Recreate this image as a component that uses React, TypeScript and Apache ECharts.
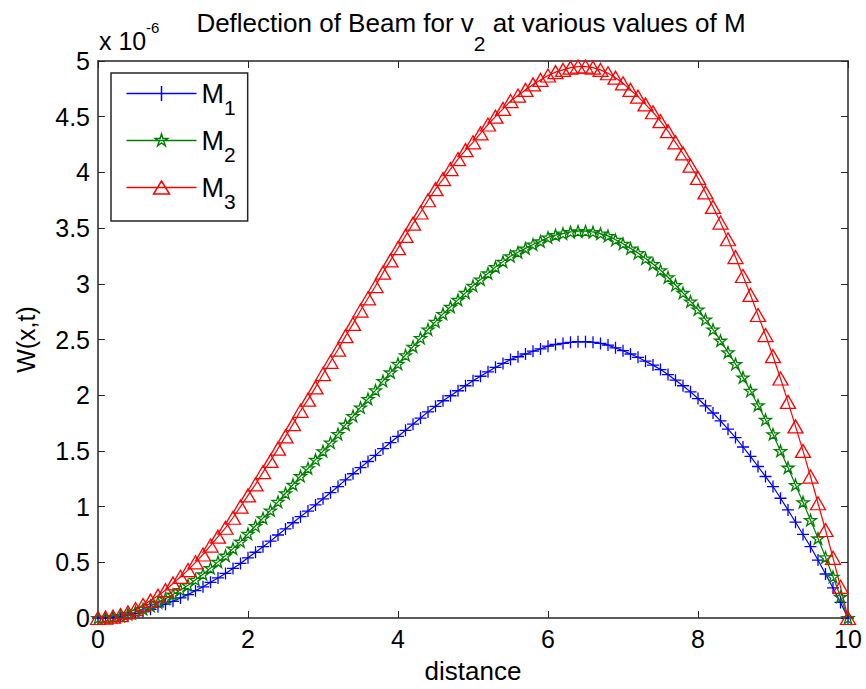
import React, { useEffect, useRef } from "react";
import * as echarts from "echarts";

const DISTANCE = [
  0, 0.1, 0.2, 0.3, 0.4, 0.5, 0.6, 0.7, 0.8, 0.9,
  1, 1.1, 1.2, 1.3, 1.4, 1.5, 1.6, 1.7, 1.8, 1.9,
  2, 2.1, 2.2, 2.3, 2.4, 2.5, 2.6, 2.7, 2.8, 2.9,
  3, 3.1, 3.2, 3.3, 3.4, 3.5, 3.6, 3.7, 3.8, 3.9,
  4, 4.1, 4.2, 4.3, 4.4, 4.5, 4.6, 4.7, 4.8, 4.9,
  5, 5.1, 5.2, 5.3, 5.4, 5.5, 5.6, 5.7, 5.8, 5.9,
  6, 6.1, 6.2, 6.3, 6.4, 6.5, 6.6, 6.7, 6.8, 6.9,
  7, 7.1, 7.2, 7.3, 7.4, 7.5, 7.6, 7.7, 7.8, 7.9,
  8, 8.1, 8.2, 8.3, 8.4, 8.5, 8.6, 8.7, 8.8, 8.9,
  9, 9.1, 9.2, 9.3, 9.4, 9.5, 9.6, 9.7, 9.8, 9.9,
  10,
];

// W(x,t) in units of 1e-6
const M1 = [
  0, 0.002, 0.006, 0.013, 0.025, 0.04, 0.058, 0.078, 0.1, 0.124,
  0.15, 0.18, 0.21, 0.245, 0.28, 0.32, 0.36, 0.4, 0.445, 0.49,
  0.54, 0.59, 0.64, 0.69, 0.745, 0.8, 0.855, 0.91, 0.96, 1.015,
  1.07, 1.125, 1.18, 1.24, 1.295, 1.35, 1.405, 1.46, 1.52, 1.575,
  1.63, 1.685, 1.74, 1.795, 1.85, 1.9, 1.95, 1.995, 2.04, 2.085,
  2.13, 2.17, 2.21, 2.25, 2.285, 2.32, 2.345, 2.37, 2.395, 2.415,
  2.44, 2.455, 2.465, 2.475, 2.48, 2.48, 2.475, 2.465, 2.45, 2.425,
  2.4, 2.37, 2.34, 2.305, 2.27, 2.23, 2.185, 2.135, 2.085, 2.03,
  1.97, 1.905, 1.84, 1.77, 1.695, 1.62, 1.535, 1.45, 1.36, 1.27,
  1.18, 1.075, 0.97, 0.86, 0.75, 0.64, 0.52, 0.395, 0.27, 0.14,
  0,
];

const M2 = [
  0, 0.003, 0.008, 0.018, 0.035, 0.056, 0.081, 0.109, 0.14, 0.174,
  0.21, 0.252, 0.294, 0.343, 0.392, 0.448, 0.504, 0.56, 0.623, 0.686,
  0.756, 0.826, 0.896, 0.966, 1.043, 1.12, 1.197, 1.274, 1.344, 1.421,
  1.498, 1.575, 1.652, 1.736, 1.813, 1.89, 1.967, 2.044, 2.128, 2.205,
  2.282, 2.359, 2.436, 2.513, 2.59, 2.66, 2.73, 2.793, 2.856, 2.919,
  2.982, 3.038, 3.094, 3.15, 3.199, 3.248, 3.283, 3.318, 3.353, 3.381,
  3.416, 3.437, 3.451, 3.465, 3.472, 3.472, 3.465, 3.451, 3.43, 3.395,
  3.36, 3.318, 3.276, 3.227, 3.178, 3.122, 3.059, 2.989, 2.919, 2.842,
  2.77, 2.68, 2.59, 2.49, 2.385, 2.28, 2.16, 2.04, 1.91, 1.78,
  1.65, 1.5, 1.35, 1.195, 1.04, 0.88, 0.715, 0.545, 0.37, 0.19,
  0,
];

const M3 = [
  0, 0.004, 0.012, 0.026, 0.05, 0.08, 0.116, 0.156, 0.2, 0.25,
  0.31, 0.37, 0.43, 0.5, 0.57, 0.65, 0.73, 0.81, 0.9, 1.0,
  1.1, 1.2, 1.31, 1.41, 1.52, 1.63, 1.74, 1.86, 1.96, 2.07,
  2.19, 2.3, 2.41, 2.53, 2.64, 2.76, 2.87, 2.98, 3.1, 3.21,
  3.32, 3.43, 3.54, 3.64, 3.75, 3.85, 3.94, 4.03, 4.12, 4.2,
  4.27, 4.35, 4.43, 4.5, 4.57, 4.64, 4.69, 4.74, 4.79, 4.83,
  4.87, 4.9, 4.92, 4.94, 4.95, 4.95, 4.94, 4.92, 4.89, 4.85,
  4.8, 4.74, 4.68, 4.61, 4.54, 4.46, 4.37, 4.27, 4.17, 4.06,
  3.95, 3.82, 3.69, 3.55, 3.4, 3.24, 3.07, 2.9, 2.72, 2.54,
  2.35, 2.15, 1.94, 1.72, 1.5, 1.27, 1.03, 0.79, 0.54, 0.28,
  0,
];

const SERIES_NAMES = ["M1", "M2", "M3"];
const SERIES_COLORS = ["#0000ff", "#008000", "#ff0000"];
const X_TICKS = { min: 0, max: 10, interval: 2 };
const Y_TICKS = { min: 0, max: 5, interval: 0.5 };
const TITLE_MAIN = "Deflection of Beam for v";
const TITLE_SUB = "2";
const TITLE_REST = " at various values of M";
const X_NAME = "distance";
const Y_NAME = "W(x,t)";

const FONT = "'Liberation Sans', Arial, Helvetica, sans-serif";
const AXIS_COLOR = "#262626";

const PLUS = "path://M0,-1L0,1M-1,0L1,0";
const STAR =
  "path://M0,-1L0.225,-0.309L0.951,-0.309L0.363,0.118L0.588,0.809L0,0.382L-0.588,0.809L-0.363,0.118L-0.951,-0.309L-0.225,-0.309Z";
const SYMBOLS = [PLUS, STAR, "triangle"];

// legend icons: line + marker, drawn in a 70 x 16 box
const LEGEND_ICONS = [
  "path://M0,0M0,8L70,8M35,0.5L35,15.5M70,16",
  "path://M0,0M0,8L70,8M35,1.5L36.46,5.99L41.18,5.99L37.36,8.77L38.82,13.26L35,10.48L31.18,13.26L32.64,8.77L28.82,5.99L33.54,5.99ZM70,16",
  "path://M0,0M0,8L70,8M35,1.5L43,14.5L27,14.5ZM70,16",
];

const pairs = (ys: number[]) => DISTANCE.map((x, i) => [x, ys[i]]);

export default function App() {
  const ref = useRef<HTMLDivElement>(null);

  useEffect(() => {
    if (!ref.current) return;
    const chart = echarts.init(ref.current, null, { renderer: "svg" });

    const mkSeries = (
      name: string,
      ys: number[],
      color: string,
      symbol: string,
      size: number | number[],
      keep: boolean
    ) => ({
      type: "line",
      name,
      data: pairs(ys),
      xAxisIndex: 0,
      yAxisIndex: 0,
      symbol,
      symbolSize: size,
      symbolKeepAspect: keep,
      showSymbol: true,
      showAllSymbol: true,
      clip: false,
      silent: true,
      lineStyle: { color, width: 1.2 },
      itemStyle: { color: "none", borderColor: color, borderWidth: 1.3 },
      emphasis: { disabled: true },
    });

    const axisCommon = {
      axisLine: { show: true, onZero: false, lineStyle: { color: AXIS_COLOR, width: 1.5 } },
      axisTick: { show: true, inside: true, length: 7, lineStyle: { color: AXIS_COLOR, width: 1 } },
      splitLine: { show: false },
    };
    const labelStyle = {
      fontFamily: FONT,
      fontSize: 25,
      color: "#000",
      margin: 8,
    };

    chart.setOption({
      animation: false,
      backgroundColor: "#fff",
      grid: { left: 98, top: 61, right: 18, bottom: 69, containLabel: false },
      xAxis: [
        {
          type: "value",
          position: "bottom",
          ...X_TICKS,
          ...axisCommon,
          axisLabel: { ...labelStyle },
          name: X_NAME,
          nameLocation: "middle",
          nameGap: 40,
          nameTextStyle: { fontFamily: FONT, fontSize: 26, color: "#000" },
        },
        {
          type: "value",
          position: "top",
          ...X_TICKS,
          ...axisCommon,
          axisLabel: { show: false },
        },
      ],
      yAxis: [
        {
          type: "value",
          position: "left",
          ...Y_TICKS,
          ...axisCommon,
          axisLabel: { ...labelStyle },
          name: Y_NAME,
          nameLocation: "middle",
          nameGap: 60,
          nameRotate: 90,
          nameTextStyle: { fontFamily: FONT, fontSize: 25, color: "#000" },
        },
        {
          type: "value",
          position: "right",
          ...Y_TICKS,
          ...axisCommon,
          axisLabel: { show: false },
        },
      ],
      legend: {
        show: true,
        data: SERIES_NAMES.map((n, i) => ({
          name: n,
          icon: LEGEND_ICONS[i],
          itemStyle: { color: "none", borderColor: SERIES_COLORS[i], borderWidth: 1.5 },
        })),
        orient: "vertical",
        left: 111,
        top: 73,
        padding: [7, 12, 9, 13],
        itemGap: 9,
        itemWidth: 70,
        itemHeight: 16,
        symbolKeepAspect: true,
        selectedMode: false,
        backgroundColor: "#fff",
        borderColor: AXIS_COLOR,
        borderWidth: 1.5,
        borderRadius: 0,
        formatter: (name: string) => `{m|M}{s|${name.slice(1)}}`,
        textStyle: {
          fontFamily: FONT,
          color: "#000",
          rich: {
            m: { fontFamily: FONT, fontSize: 27, lineHeight: 27, verticalAlign: "top", color: "#000" },
            s: {
              fontFamily: FONT,
              fontSize: 21,
              lineHeight: 21,
              padding: [17, 0, 0, 0],
              verticalAlign: "top",
              color: "#000",
            },
          },
        },
      },
      graphic: [
        {
          type: "text",
          x: 471,
          y: 10,
          silent: true,
          style: {
            text: `{a|${TITLE_MAIN}}{s|${TITLE_SUB}}{a|${TITLE_REST}}`,
            align: "center",
            verticalAlign: "top",
            fill: "#000",
            fontFamily: FONT,
            fontSize: 26,
            rich: {
              a: { fontFamily: FONT, fontSize: 26, lineHeight: 26, verticalAlign: "top", fill: "#000" },
              s: {
                fontFamily: FONT,
                fontSize: 21,
                lineHeight: 21,
                padding: [23, 0, 0, 0],
                verticalAlign: "top",
                fill: "#000",
              },
            },
          },
        },
        {
          type: "text",
          x: 99,
          y: 41,
          silent: true,
          style: {
            text: "x 10",
            align: "left",
            verticalAlign: "middle",
            fill: "#000",
            fontFamily: FONT,
            fontSize: 25,
          },
        },
        {
          type: "text",
          x: 146,
          y: 27,
          silent: true,
          style: {
            text: "-6",
            align: "left",
            verticalAlign: "middle",
            fill: "#000",
            fontFamily: FONT,
            fontSize: 15,
          },
        },
      ],
      series: [
        mkSeries("M1", M1, SERIES_COLORS[0], SYMBOLS[0], 12, false),
        mkSeries("M2", M2, SERIES_COLORS[1], SYMBOLS[1], 12, true),
        mkSeries("M3", M3, SERIES_COLORS[2], SYMBOLS[2], [15, 13], false),
      ],
    });

    return () => chart.dispose();
  }, []);

  return (
    <div
      ref={ref}
      style={{ position: "absolute", left: 0, top: 0, width: 866, height: 689, background: "#fff" }}
    />
  );
}
